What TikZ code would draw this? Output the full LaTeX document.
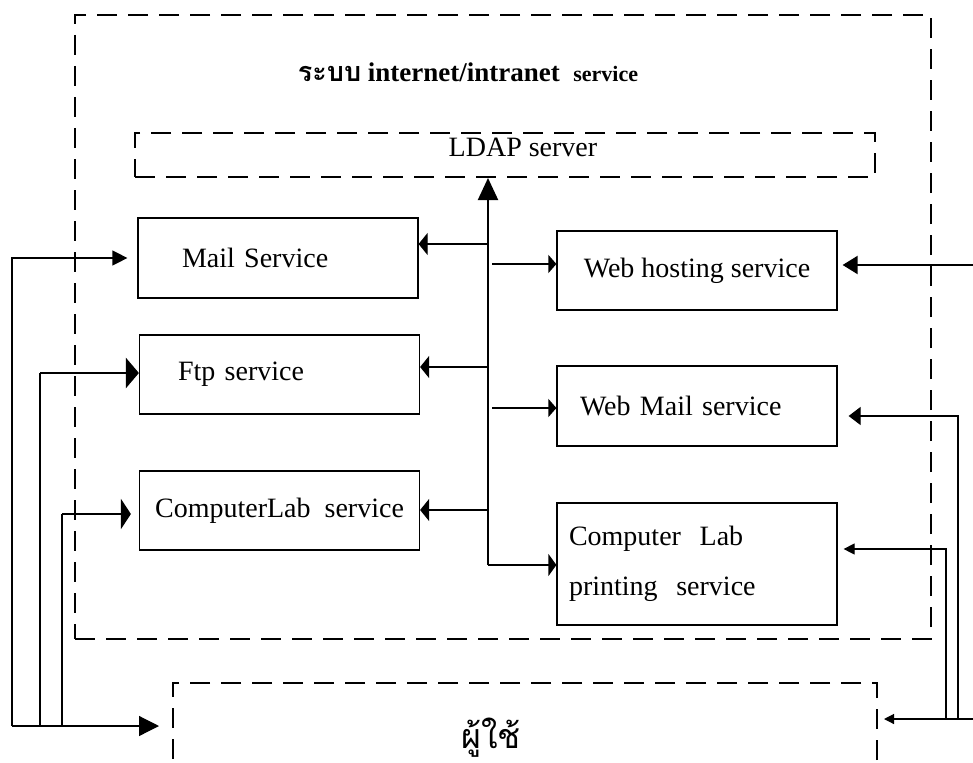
\documentclass[tikz,border=0pt]{standalone}
\usepackage{fontspec}
\setmainfont{Liberation Serif}
\newfontfamily\thaifont[Script=Thai]{Loma}
\usetikzlibrary{arrows.meta}

\tikzset{
  frame/.style={draw, line width=2pt, dash pattern=on 20pt off 11pt, inner sep=0pt},
  svc/.style={draw, line width=1.2pt, minimum width=280pt, minimum height=80pt,
    inner sep=0pt, font=\fontsize{28}{34}\selectfont},
  wire/.style={line width=1.2pt},
  bold wire/.style={line width=2.5pt},
  arr/.style 2 args={-{Triangle[length=#1,width=#2]}}
}

\begin{document}
\begin{tikzpicture}[x=1pt, y=-1pt]

  \useasboundingbox (0,0) rectangle (973,762);
  \clip (0,0) rectangle (973,762);

  % Dashed frames
  \node[frame, minimum width=856pt, minimum height=624pt] (sys) at (503,327) {};
  \node[frame, minimum width=740pt, minimum height=44pt, font=\fontsize{28}{34}\selectfont]
    (ldap) at (505,155) {\hspace{36pt}\raisebox{16pt}{LDAP server}};
  \node[frame, minimum width=704pt, minimum height=117pt] (users) at (525,741.5) {};

  % Title and user label
  \node[font=\fontsize{27}{32}\selectfont\bfseries] (title) at (468,72)
    {{\thaifont ระบบ} internet/intranet\ \ {\fontsize{22}{26}\selectfont service}};
  \node[font=\thaifont\fontsize{34}{40}\selectfont] (who) at (491,738) {ผู้ใช้};

  % Services on the left
  \node[svc, text width=192pt, inner xsep=44pt, align=left] (mail) at (278,258) {Mail\ Service};
  \node[svc, minimum height=79pt, text width=203pt, inner xsep=38pt, align=left] (ftp) at (279.5,374.5) {Ftp service};
  \node[svc, minimum height=79pt] (clab) at (279.5,510.5) {ComputerLab\ \ service};

  % Services on the right
  \node[svc, minimum height=79pt] (whost) at (697,270.5) {Web hosting service};
  \node[svc, text width=234pt, inner xsep=23pt, align=left] (wmail) at (697,406) {Web Mail service};
  \node[svc, minimum height=122pt, text width=256pt, inner xsep=12pt, align=left,
    font=\fontsize{28}{50}\selectfont] (cprint) at (697,564) {Computer\ \ Lab\\printing\ \ service};

  % Trunk up to LDAP
  \coordinate (trunk) at (488,565);
  \draw[wire, line width=2pt, arr={22pt}{20pt}] (trunk) -- (trunk |- ldap.south);
  \foreach \y/\b in {244/mail,367/ftp,510/clab}
    \draw[wire, arr={9pt}{22pt}] (488,\y) -- (\b.east |- 0,\y);
  \foreach \y/\b in {264/whost,408/wmail}
    \draw[wire, arr={8pt}{18pt}] (492,\y) -- (\b.west |- 0,\y);
  \draw[wire, arr={8pt}{22pt}] (trunk) -- (trunk -| cprint.west);

  % Lines from the left
  \coordinate (lA) at (12,726);
  \coordinate (lB) at (40,726);
  \coordinate (lC) at (62,726);
  \coordinate (lBt) at (40,373);
  \coordinate (lCt) at (62,514);
  \draw[wire, arr={15pt}{15pt}, shorten >=10pt] (lA) |- (mail.west);
  \draw[wire] (lB) -- (lBt);
  \draw[bold wire, arr={13pt}{30pt}] (lBt) -- (lBt -| ftp.west);
  \draw[wire] (lC) -- (lCt);
  \draw[bold wire, arr={10pt}{30pt}, shorten >=8pt] (lCt) -- (lCt -| clab.west);
  \draw[wire, arr={20pt}{20pt}, shorten >=13pt] (lA) -- (lA -| users.west);

  % Lines from the right
  \coordinate (rTop) at (973,265);
  \coordinate (rA) at (973,719);
  \coordinate (rB) at (958,719);
  \coordinate (rC) at (946,719);
  \coordinate (wm) at (958,416);
  \coordinate (cp) at (946,549);
  \draw[wire, line width=2pt, arr={15pt}{18pt}, shorten >=5pt] (rTop) -- (rTop -| whost.east);
  \draw[wire, arr={12pt}{18pt}, shorten >=11pt] (rB) -- (wm) -- (wm -| wmail.east);
  \draw[wire, arr={11pt}{11pt}, shorten >=6pt] (rC) -- (cp) -- (cp -| cprint.east);
  \draw[wire, arr={10pt}{10pt}, shorten >=6pt] (rA) -- (rA -| users.east);

\end{tikzpicture}
\end{document}
